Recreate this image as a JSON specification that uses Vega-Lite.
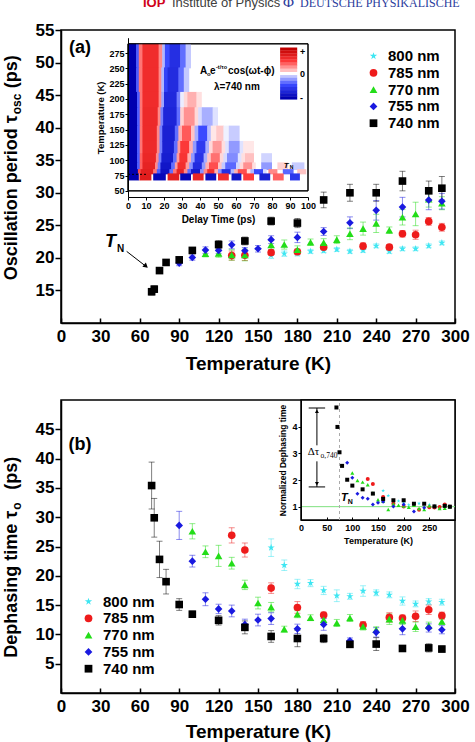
{
  "$schema": "https://vega.github.io/schema/vega-lite/v6.json",
  "background": "white",
  "padding": {"left": 2, "top": -7, "right": 0, "bottom": 0},
  "spacing": 77,
  "bounds": "flush",
  "config": {
    "font": "Liberation Sans",
    "view": {"stroke": "#000000", "strokeWidth": 1.5},
    "axis": {
      "grid": false, "domainColor": "#000000", "domainWidth": 1.5, "tickColor": "#000000", "tickWidth": 1.5,
      "labelColor": "#000000", "titleColor": "#000000", "labelFont": "Liberation Sans", "titleFont": "Liberation Sans",
      "labelFontWeight": "bold", "titleFontWeight": "bold", "labelFlush": false, "labelOverlap": false
    }
  },
  "datasets": {
    "a": [
      {"s": "800 nm", "T": 160, "v": 20.4, "e": 0.5}, {"s": "800 nm", "T": 170, "v": 20.65, "e": 0.4}, {"s": "800 nm", "T": 180, "v": 20.7, "e": 0.4},
      {"s": "800 nm", "T": 190, "v": 21.0, "e": 0.3}, {"s": "800 nm", "T": 200, "v": 21.1, "e": 0.3}, {"s": "800 nm", "T": 210, "v": 21.3, "e": 0.3},
      {"s": "800 nm", "T": 220, "v": 21.0, "e": 0.3}, {"s": "800 nm", "T": 230, "v": 21.15, "e": 0.3}, {"s": "800 nm", "T": 240, "v": 21.85, "e": 0.3},
      {"s": "800 nm", "T": 250, "v": 21.0, "e": 0.3}, {"s": "800 nm", "T": 260, "v": 21.4, "e": 0.3}, {"s": "800 nm", "T": 270, "v": 21.4, "e": 0.3},
      {"s": "800 nm", "T": 280, "v": 21.85, "e": 0.3}, {"s": "800 nm", "T": 290, "v": 22.3, "e": 0.3},
      {"s": "785 nm", "T": 130, "v": 20.35, "e": 0.7}, {"s": "785 nm", "T": 140, "v": 20.4, "e": 0.8}, {"s": "785 nm", "T": 160, "v": 20.8, "e": 0.4},
      {"s": "785 nm", "T": 180, "v": 20.95, "e": 0.4}, {"s": "785 nm", "T": 200, "v": 21.65, "e": 0.4}, {"s": "785 nm", "T": 230, "v": 21.8, "e": 0.5},
      {"s": "785 nm", "T": 250, "v": 21.65, "e": 0.4}, {"s": "785 nm", "T": 260, "v": 23.7, "e": 0.5}, {"s": "785 nm", "T": 270, "v": 23.55, "e": 0.7},
      {"s": "785 nm", "T": 280, "v": 25.6, "e": 0.6}, {"s": "785 nm", "T": 290, "v": 24.7, "e": 0.6},
      {"s": "770 nm", "T": 110, "v": 20.65, "e": 0.5}, {"s": "770 nm", "T": 120, "v": 20.7, "e": 0.6}, {"s": "770 nm", "T": 130, "v": 20.45, "e": 0.8},
      {"s": "770 nm", "T": 140, "v": 20.45, "e": 0.9}, {"s": "770 nm", "T": 160, "v": 22.0, "e": 0.7}, {"s": "770 nm", "T": 170, "v": 22.05, "e": 0.7},
      {"s": "770 nm", "T": 180, "v": 21.25, "e": 0.6}, {"s": "770 nm", "T": 190, "v": 22.4, "e": 0.5}, {"s": "770 nm", "T": 200, "v": 22.35, "e": 0.6},
      {"s": "770 nm", "T": 210, "v": 22.8, "e": 0.6}, {"s": "770 nm", "T": 220, "v": 23.7, "e": 0.9}, {"s": "770 nm", "T": 230, "v": 24.5, "e": 1.0},
      {"s": "770 nm", "T": 240, "v": 25.3, "e": 1.4}, {"s": "770 nm", "T": 250, "v": 24.25, "e": 0.5}, {"s": "770 nm", "T": 260, "v": 26.25, "e": 1.2},
      {"s": "770 nm", "T": 270, "v": 26.75, "e": 1.8}, {"s": "770 nm", "T": 280, "v": 29.0, "e": 1.2}, {"s": "770 nm", "T": 290, "v": 28.4, "e": 1.0},
      {"s": "755 nm", "T": 90, "v": 19.2, "e": 0.4}, {"s": "755 nm", "T": 100, "v": 20.05, "e": 0.4}, {"s": "755 nm", "T": 110, "v": 21.2, "e": 0.5},
      {"s": "755 nm", "T": 120, "v": 21.15, "e": 0.5}, {"s": "755 nm", "T": 130, "v": 22.0, "e": 0.6}, {"s": "755 nm", "T": 140, "v": 21.1, "e": 0.5},
      {"s": "755 nm", "T": 150, "v": 21.4, "e": 0.5}, {"s": "755 nm", "T": 160, "v": 22.8, "e": 0.6}, {"s": "755 nm", "T": 180, "v": 23.15, "e": 0.8},
      {"s": "755 nm", "T": 200, "v": 24.05, "e": 0.6}, {"s": "755 nm", "T": 220, "v": 25.4, "e": 0.9}, {"s": "755 nm", "T": 240, "v": 27.3, "e": 1.5},
      {"s": "755 nm", "T": 260, "v": 27.8, "e": 1.5}, {"s": "755 nm", "T": 280, "v": 28.9, "e": 1.5}, {"s": "755 nm", "T": 290, "v": 28.7, "e": 1.2},
      {"s": "740 nm", "T": 69, "v": 14.8, "e": 0.5}, {"s": "740 nm", "T": 71, "v": 15.2, "e": 0.5}, {"s": "740 nm", "T": 75, "v": 18.05, "e": 0.4},
      {"s": "740 nm", "T": 80, "v": 19.3, "e": 0.3}, {"s": "740 nm", "T": 90, "v": 19.7, "e": 0.4}, {"s": "740 nm", "T": 100, "v": 21.15, "e": 0.4},
      {"s": "740 nm", "T": 120, "v": 22.05, "e": 0.6}, {"s": "740 nm", "T": 140, "v": 22.6, "e": 0.6}, {"s": "740 nm", "T": 160, "v": 25.65, "e": 0.6},
      {"s": "740 nm", "T": 180, "v": 25.35, "e": 0.7}, {"s": "740 nm", "T": 200, "v": 28.9, "e": 1.2}, {"s": "740 nm", "T": 220, "v": 30.0, "e": 1.3},
      {"s": "740 nm", "T": 240, "v": 30.0, "e": 1.3}, {"s": "740 nm", "T": 260, "v": 31.8, "e": 1.5}, {"s": "740 nm", "T": 280, "v": 30.3, "e": 1.5},
      {"s": "740 nm", "T": 290, "v": 30.7, "e": 1.8}
    ],
    "b": [
      {"s": "800 nm", "T": 160, "v": 24.8, "e": 1.5}, {"s": "800 nm", "T": 170, "v": 21.8, "e": 0.9}, {"s": "800 nm", "T": 180, "v": 18.6, "e": 0.8},
      {"s": "800 nm", "T": 190, "v": 18.75, "e": 0.6}, {"s": "800 nm", "T": 200, "v": 17.5, "e": 0.7}, {"s": "800 nm", "T": 210, "v": 16.6, "e": 1.0},
      {"s": "800 nm", "T": 220, "v": 16.5, "e": 0.5}, {"s": "800 nm", "T": 230, "v": 17.4, "e": 0.9}, {"s": "800 nm", "T": 240, "v": 17.1, "e": 0.5},
      {"s": "800 nm", "T": 250, "v": 16.75, "e": 0.5}, {"s": "800 nm", "T": 260, "v": 15.7, "e": 0.7}, {"s": "800 nm", "T": 270, "v": 15.2, "e": 0.5},
      {"s": "800 nm", "T": 280, "v": 15.6, "e": 0.5}, {"s": "800 nm", "T": 290, "v": 15.5, "e": 0.5},
      {"s": "785 nm", "T": 130, "v": 26.9, "e": 1.3}, {"s": "785 nm", "T": 140, "v": 24.4, "e": 1.2}, {"s": "785 nm", "T": 160, "v": 17.9, "e": 0.9},
      {"s": "785 nm", "T": 180, "v": 14.6, "e": 1.0}, {"s": "785 nm", "T": 200, "v": 13.3, "e": 0.5}, {"s": "785 nm", "T": 230, "v": 11.6, "e": 0.6},
      {"s": "785 nm", "T": 250, "v": 12.9, "e": 0.8}, {"s": "785 nm", "T": 260, "v": 12.8, "e": 0.5}, {"s": "785 nm", "T": 270, "v": 13.1, "e": 0.9},
      {"s": "785 nm", "T": 280, "v": 14.2, "e": 0.8}, {"s": "785 nm", "T": 290, "v": 13.2, "e": 0.6},
      {"s": "770 nm", "T": 100, "v": 27.6, "e": 1.3}, {"s": "770 nm", "T": 110, "v": 24.1, "e": 1.0}, {"s": "770 nm", "T": 120, "v": 23.4, "e": 1.8},
      {"s": "770 nm", "T": 130, "v": 22.15, "e": 1.0}, {"s": "770 nm", "T": 140, "v": 18.45, "e": 0.8}, {"s": "770 nm", "T": 150, "v": 15.35, "e": 1.0},
      {"s": "770 nm", "T": 160, "v": 14.65, "e": 0.8}, {"s": "770 nm", "T": 170, "v": 10.9, "e": 0.5}, {"s": "770 nm", "T": 180, "v": 13.45, "e": 0.6},
      {"s": "770 nm", "T": 190, "v": 12.85, "e": 0.5}, {"s": "770 nm", "T": 200, "v": 12.5, "e": 0.6}, {"s": "770 nm", "T": 210, "v": 11.95, "e": 0.6},
      {"s": "770 nm", "T": 220, "v": 12.8, "e": 0.6}, {"s": "770 nm", "T": 230, "v": 11.35, "e": 0.6}, {"s": "770 nm", "T": 240, "v": 10.8, "e": 0.5},
      {"s": "770 nm", "T": 250, "v": 12.6, "e": 0.9}, {"s": "770 nm", "T": 260, "v": 12.4, "e": 0.7}, {"s": "770 nm", "T": 270, "v": 11.3, "e": 0.8},
      {"s": "770 nm", "T": 280, "v": 11.5, "e": 0.6}, {"s": "770 nm", "T": 290, "v": 12.2, "e": 0.5},
      {"s": "755 nm", "T": 90, "v": 28.6, "e": 2.4}, {"s": "755 nm", "T": 100, "v": 22.5, "e": 1.0}, {"s": "755 nm", "T": 110, "v": 16.0, "e": 1.1},
      {"s": "755 nm", "T": 120, "v": 14.35, "e": 0.8}, {"s": "755 nm", "T": 130, "v": 14.0, "e": 1.0}, {"s": "755 nm", "T": 140, "v": 11.7, "e": 0.9},
      {"s": "755 nm", "T": 150, "v": 12.45, "e": 1.0}, {"s": "755 nm", "T": 160, "v": 12.7, "e": 1.0}, {"s": "755 nm", "T": 180, "v": 10.95, "e": 0.8},
      {"s": "755 nm", "T": 200, "v": 11.7, "e": 1.0}, {"s": "755 nm", "T": 220, "v": 8.9, "e": 0.5}, {"s": "755 nm", "T": 240, "v": 10.35, "e": 0.8},
      {"s": "755 nm", "T": 260, "v": 10.95, "e": 1.0}, {"s": "755 nm", "T": 280, "v": 11.1, "e": 0.7}, {"s": "755 nm", "T": 290, "v": 10.8, "e": 0.7},
      {"s": "740 nm", "T": 69, "v": 35.4, "e": 4.0}, {"s": "740 nm", "T": 71, "v": 29.9, "e": 3.3}, {"s": "740 nm", "T": 75, "v": 22.8, "e": 3.1},
      {"s": "740 nm", "T": 80, "v": 19.0, "e": 2.1}, {"s": "740 nm", "T": 90, "v": 15.1, "e": 1.0}, {"s": "740 nm", "T": 100, "v": 13.45, "e": 0.5},
      {"s": "740 nm", "T": 120, "v": 12.4, "e": 0.8}, {"s": "740 nm", "T": 140, "v": 11.2, "e": 1.1}, {"s": "740 nm", "T": 160, "v": 9.65, "e": 1.0},
      {"s": "740 nm", "T": 180, "v": 9.3, "e": 1.4}, {"s": "740 nm", "T": 200, "v": 9.3, "e": 0.7}, {"s": "740 nm", "T": 220, "v": 8.3, "e": 0.5},
      {"s": "740 nm", "T": 240, "v": 8.35, "e": 1.1}, {"s": "740 nm", "T": 260, "v": 7.6, "e": 0.3}, {"s": "740 nm", "T": 280, "v": 7.7, "e": 0.7},
      {"s": "740 nm", "T": 290, "v": 7.5, "e": 0.5}
    ],
    "n": [
      {"s": "800 nm", "T": 160, "v": 1.6}, {"s": "800 nm", "T": 170, "v": 1.41}, {"s": "800 nm", "T": 180, "v": 1.2}, {"s": "800 nm", "T": 190, "v": 1.21},
      {"s": "800 nm", "T": 200, "v": 1.13}, {"s": "800 nm", "T": 210, "v": 1.07}, {"s": "800 nm", "T": 220, "v": 1.06}, {"s": "800 nm", "T": 230, "v": 1.12},
      {"s": "800 nm", "T": 240, "v": 1.1}, {"s": "800 nm", "T": 250, "v": 1.08}, {"s": "800 nm", "T": 260, "v": 1.01}, {"s": "800 nm", "T": 270, "v": 0.98},
      {"s": "800 nm", "T": 280, "v": 1.01}, {"s": "800 nm", "T": 290, "v": 1.0},
      {"s": "785 nm", "T": 130, "v": 2.04}, {"s": "785 nm", "T": 140, "v": 1.85}, {"s": "785 nm", "T": 160, "v": 1.36}, {"s": "785 nm", "T": 180, "v": 1.11},
      {"s": "785 nm", "T": 200, "v": 1.01}, {"s": "785 nm", "T": 230, "v": 0.88}, {"s": "785 nm", "T": 250, "v": 0.98}, {"s": "785 nm", "T": 260, "v": 0.97},
      {"s": "785 nm", "T": 270, "v": 0.99}, {"s": "785 nm", "T": 280, "v": 1.08}, {"s": "785 nm", "T": 290, "v": 1.0},
      {"s": "770 nm", "T": 100, "v": 2.26}, {"s": "770 nm", "T": 110, "v": 1.98}, {"s": "770 nm", "T": 120, "v": 1.92}, {"s": "770 nm", "T": 130, "v": 1.82},
      {"s": "770 nm", "T": 140, "v": 1.51}, {"s": "770 nm", "T": 150, "v": 1.26}, {"s": "770 nm", "T": 160, "v": 1.2}, {"s": "770 nm", "T": 170, "v": 0.89},
      {"s": "770 nm", "T": 180, "v": 1.1}, {"s": "770 nm", "T": 190, "v": 1.05}, {"s": "770 nm", "T": 200, "v": 1.02}, {"s": "770 nm", "T": 210, "v": 0.98},
      {"s": "770 nm", "T": 220, "v": 1.05}, {"s": "770 nm", "T": 230, "v": 0.93}, {"s": "770 nm", "T": 240, "v": 0.89}, {"s": "770 nm", "T": 250, "v": 1.03},
      {"s": "770 nm", "T": 260, "v": 1.02}, {"s": "770 nm", "T": 270, "v": 0.93}, {"s": "770 nm", "T": 280, "v": 0.94}, {"s": "770 nm", "T": 290, "v": 1.0},
      {"s": "755 nm", "T": 90, "v": 2.65}, {"s": "755 nm", "T": 100, "v": 2.08}, {"s": "755 nm", "T": 110, "v": 1.48}, {"s": "755 nm", "T": 120, "v": 1.33},
      {"s": "755 nm", "T": 130, "v": 1.3}, {"s": "755 nm", "T": 140, "v": 1.08}, {"s": "755 nm", "T": 150, "v": 1.15}, {"s": "755 nm", "T": 160, "v": 1.18},
      {"s": "755 nm", "T": 180, "v": 1.01}, {"s": "755 nm", "T": 200, "v": 1.08}, {"s": "755 nm", "T": 220, "v": 0.82}, {"s": "755 nm", "T": 240, "v": 0.96},
      {"s": "755 nm", "T": 260, "v": 1.01}, {"s": "755 nm", "T": 280, "v": 1.03}, {"s": "755 nm", "T": 290, "v": 1.0},
      {"s": "740 nm", "T": 69, "v": 4.72}, {"s": "740 nm", "T": 71, "v": 3.99}, {"s": "740 nm", "T": 75, "v": 3.04}, {"s": "740 nm", "T": 80, "v": 2.53},
      {"s": "740 nm", "T": 90, "v": 2.01}, {"s": "740 nm", "T": 100, "v": 1.79}, {"s": "740 nm", "T": 120, "v": 1.65}, {"s": "740 nm", "T": 140, "v": 1.49},
      {"s": "740 nm", "T": 160, "v": 1.29}, {"s": "740 nm", "T": 180, "v": 1.24}, {"s": "740 nm", "T": 200, "v": 1.24}, {"s": "740 nm", "T": 220, "v": 1.11},
      {"s": "740 nm", "T": 240, "v": 1.11}, {"s": "740 nm", "T": 260, "v": 1.01}, {"s": "740 nm", "T": 280, "v": 1.03}, {"s": "740 nm", "T": 290, "v": 1.0}
    ],
    "heat": [
      {"T0": 250, "T1": 290, "t0": [0, 4.5, 6, 8, 17, 19, 20.5, 23, 29, 32], "t1": [4.8, 6.3, 8.3, 17.3, 19.3, 20.8, 23.3, 29.3, 32.3, 35], "v": [-1, -0.45, 0.35, 0.62, 0.3, -0.2, -0.5, -0.68, -0.4, -0.15]},
      {"T0": 210, "T1": 251.5, "t0": [0, 4.5, 6, 8, 17, 18.5, 20, 22, 28, 31], "t1": [4.8, 6.3, 8.3, 17.3, 18.8, 20.3, 22.3, 28.3, 31.3, 34], "v": [-1, -0.45, 0.35, 0.62, 0.3, -0.2, -0.55, -0.7, -0.4, -0.15]},
      {"T0": 185, "T1": 211.5, "t0": [0, 5, 6.5, 8, 17, 18.5, 20, 27, 29, 31, 33, 38], "t1": [5.3, 6.8, 8.3, 17.3, 18.8, 20.3, 27.3, 29.3, 31.3, 33.3, 38.3, 41], "v": [-1, -0.45, 0.35, 0.62, 0.3, -0.25, -0.72, -0.35, -0.05, 0.1, 0.2, 0.08]},
      {"T0": 155, "T1": 186.5, "t0": [0, 5, 6.5, 8, 16.5, 18, 19.5, 27, 29, 31, 37, 39, 41, 47], "t1": [5.3, 6.8, 8.3, 16.8, 18.3, 19.8, 27.3, 29.3, 31.3, 37.3, 39.3, 41.3, 47.3, 50], "v": [-1, -0.45, 0.35, 0.64, 0.3, -0.35, -0.75, -0.4, 0.12, 0.28, 0.1, -0.1, -0.22, -0.08]},
      {"T0": 130, "T1": 156.5, "t0": [0, 5, 6.5, 8, 16, 17.5, 19, 26, 28, 30, 35, 37, 39, 44, 46, 49, 53, 56], "t1": [5.3, 6.8, 8.3, 16.3, 17.8, 19.3, 26.3, 28.3, 30.3, 35.3, 37.3, 39.3, 44.3, 46.3, 49.3, 53.3, 56.3, 62], "v": [-1, -0.45, 0.35, 0.64, 0.3, -0.35, -0.78, -0.4, 0.2, 0.42, 0.15, -0.22, -0.5, -0.18, 0.06, 0.14, -0.04, -0.14]},
      {"T0": 110, "T1": 131.5, "t0": [0, 5, 6.5, 8, 16, 17.5, 19, 25.5, 27.5, 29, 34, 36, 38, 43, 45, 47, 52, 54, 56, 62, 64], "t1": [5.3, 6.8, 8.3, 16.3, 17.8, 19.3, 25.8, 27.8, 29.3, 34.3, 36.3, 38.3, 43.3, 45.3, 47.3, 52.3, 54.3, 56.3, 62.3, 64.3, 70], "v": [-1, -0.45, 0.35, 0.64, 0.3, -0.35, -0.78, -0.4, 0.25, 0.52, 0.2, -0.28, -0.6, -0.22, 0.1, 0.26, 0.08, -0.08, -0.28, -0.08, 0.06]},
      {"T0": 95, "T1": 111.5, "t0": [0, 5, 6.5, 8, 15.5, 17, 18.5, 25, 27, 28.5, 33, 35, 37, 42, 44, 46, 51, 53, 55, 61, 63, 65, 74], "t1": [5.3, 6.8, 8.3, 15.8, 17.3, 18.8, 25.3, 27.3, 28.8, 33.3, 35.3, 37.3, 42.3, 44.3, 46.3, 51.3, 53.3, 55.3, 61.3, 63.3, 65.3, 70, 80], "v": [-1, -0.45, 0.4, 0.66, 0.3, -0.35, -0.8, -0.4, 0.25, 0.56, 0.2, -0.28, -0.65, -0.22, 0.15, 0.36, 0.1, -0.1, -0.32, -0.08, 0.08, 0.16, -0.12]},
      {"T0": 84, "T1": 96.5, "t0": [0, 5, 6.5, 8, 15, 16.5, 18, 24, 26, 27.5, 32, 34, 36, 41, 43, 45, 50, 52, 54, 60, 62, 64, 69, 74, 83, 91], "t1": [5.3, 6.8, 8.3, 15.3, 16.8, 18.3, 24.3, 26.3, 27.8, 32.3, 34.3, 36.3, 41.3, 43.3, 45.3, 50.3, 52.3, 54.3, 60.3, 62.3, 64.3, 69.3, 71, 80, 89, 98], "v": [-1, -0.45, 0.4, 0.7, 0.3, -0.35, -0.85, -0.4, 0.25, 0.6, 0.25, -0.3, -0.7, -0.28, 0.2, 0.45, 0.15, -0.15, -0.42, -0.12, 0.1, 0.28, 0.08, -0.28, 0.12, -0.14]},
      {"T0": 77, "T1": 85.5, "t0": [0, 5.5, 7, 14, 16, 18, 23, 25, 27, 31, 33, 35, 40, 42, 44, 48, 50, 52, 57, 59, 61, 66, 68, 70, 75, 78, 86, 94], "t1": [5.8, 7.3, 14.3, 16.3, 18.3, 23.3, 25.3, 27.3, 31.3, 33.3, 35.3, 40.3, 42.3, 44.3, 48.3, 50.3, 52.3, 57.3, 59.3, 61.3, 66.3, 68.3, 70.3, 75.3, 77, 83, 92, 99], "v": [-1, 0.45, 0.72, 0.35, -0.45, -0.88, -0.4, 0.35, 0.68, 0.3, -0.4, -0.82, -0.3, 0.3, 0.6, 0.2, -0.3, -0.68, -0.2, 0.2, 0.45, 0.1, -0.2, -0.52, -0.1, 0.3, -0.42, 0.15]},
      {"T0": 67, "T1": 78.5, "t0": [0, 6, 6.5, 14, 22, 29, 36, 43, 50, 57.5, 64, 73, 80.5, 90], "t1": [6.3, 6.8, 13, 21, 28.5, 35, 42, 49, 56, 63, 70, 79, 86.5, 95.5], "v": [-1, 0.2, 0.75, -0.95, 0.72, -0.95, 0.68, -0.9, 0.6, -0.85, 0.5, -0.78, 0.4, -0.62]}
    ],
    "cbar": [
      {"t0": 84.5, "t1": 94,
       "T0": [279, 274, 269, 264, 259, 254, 249, 244, 234, 229, 224, 219, 214, 209, 204, 199],
       "T1": [284, 279.5, 274.5, 269.5, 264.5, 259.5, 254.5, 249.5, 239, 234.5, 229.5, 224.5, 219.5, 214.5, 209.5, 204.5],
       "v": [1, 0.88, 0.76, 0.64, 0.52, 0.4, 0.28, 0.16, -0.16, -0.28, -0.4, -0.52, -0.64, -0.76, -0.88, -1]}
    ]
  },
  "vconcat": [
    {
      "width": 394,
      "height": 293,
      "resolve": {
        "scale": {"x": "independent", "y": "independent", "color": "independent"},
        "axis": {"x": "independent", "y": "independent"}
      },
      "layer": [
        {
          "resolve": {"scale": {"color": "independent", "shape": "independent"}},
          "layer": [
            {
              "data": {"name": "a"},
              "mark": {"type": "errorbar", "ticks": {"size": 6, "opacity": 0.5}, "rule": {"opacity": 0.5}},
              "encoding": {
                "x": {"field": "T", "type": "quantitative", "title": "Temperature (K)", "scale": {"domain": [0, 300]}},
                "y": {"field": "v", "type": "quantitative", "title": null, "scale": {"domain": [11, 55]}},
                "yError": {"field": "e"},
                "color": {"field": "s", "type": "nominal", "legend": null, "scale": {"domain": ["800 nm", "785 nm", "770 nm", "755 nm", "740 nm"], "range": ["#3ee6f2", "#ee1b1b", "#23dd18", "#1a1ae0", "#000000"]}}
              }
            },
            {
              "data": {"name": "a"},
              "mark": {"type": "point", "filled": true, "opacity": 1, "size": 58},
              "encoding": {
                "x": {"field": "T", "type": "quantitative", "title": "Temperature (K)", "scale": {"domain": [0, 300]},
                      "axis": {"values": [0, 30, 60, 90, 120, 150, 180, 210, 240, 270, 300], "tickCount": 40, "labelOverlap": false, "tickSize": -5, "labelPadding": 10, "labelFontSize": 17, "titleFontSize": 19, "titlePadding": 10}},
                "y": {"field": "v", "type": "quantitative", "title": null, "scale": {"domain": [11, 55]},
                      "axis": {"values": [15, 20, 25, 30, 35, 40, 45, 50, 55], "tickCount": 40, "labelOverlap": false, "tickSize": 6, "labelPadding": 1, "labelFontSize": 17}},
                "color": {"field": "s", "type": "nominal", "scale": {"domain": ["800 nm", "785 nm", "770 nm", "755 nm", "740 nm"], "range": ["#3ee6f2", "#ee1b1b", "#23dd18", "#1a1ae0", "#000000"]},
                          "legend": {"title": null, "orient": "none", "legendX": 305, "legendY": 18.5, "labelFontSize": 15, "labelFontWeight": "bold", "labelColor": "#000000", "symbolSize": 60, "rowPadding": 0.8, "labelOffset": 7, "padding": 0}},
                "shape": {"field": "s", "type": "nominal", "scale": {"domain": ["800 nm", "785 nm", "770 nm", "755 nm", "740 nm"], "range": ["M0,-1L0.224,-0.309L0.951,-0.309L0.363,0.118L0.588,0.809L0,0.382L-0.588,0.809L-0.363,0.118L-0.951,-0.309L-0.224,-0.309Z", "circle", "triangle-up", "diamond", "square"]},
                          "legend": {"title": null, "orient": "none", "legendX": 305, "legendY": 18.5, "labelFontSize": 15, "labelFontWeight": "bold", "labelColor": "#000000", "symbolSize": 60, "rowPadding": 0.8, "labelOffset": 7, "padding": 0}}
              }
            },
            {
              "data": {"values": [{}]},
              "mark": {"type": "text", "text": "IOP", "fontSize": 13, "fontWeight": "bold", "color": "#d0021b", "align": "left", "baseline": "alphabetic"},
              "encoding": {"x": {"datum": 62.4, "type": "quantitative"}, "y": {"datum": 58.6, "type": "quantitative"}}
            },
            {
              "data": {"values": [{}]},
              "mark": {"type": "text", "text": "Institute of Physics", "fontSize": 13, "color": "#404040", "align": "left", "baseline": "alphabetic"},
              "encoding": {"x": {"datum": 84.5, "type": "quantitative"}, "y": {"datum": 58.6, "type": "quantitative"}}
            },
            {
              "data": {"values": [{}]},
              "mark": {"type": "text", "text": "Φ", "fontSize": 15, "font": "Liberation Serif", "color": "#2a3b9c", "align": "left", "baseline": "alphabetic"},
              "encoding": {"x": {"datum": 169, "type": "quantitative"}, "y": {"datum": 58.6, "type": "quantitative"}}
            },
            {
              "data": {"values": [{}]},
              "mark": {"type": "text", "text": "DEUTSCHE PHYSIKALISCHE", "fontSize": 12, "font": "Liberation Serif", "color": "#2a3b9c", "align": "left", "baseline": "alphabetic"},
              "encoding": {"x": {"datum": 182, "type": "quantitative"}, "y": {"datum": 58.6, "type": "quantitative"}}
            },
            {
              "data": {"values": [{}]},
              "mark": {"type": "text", "text": "(a)", "fontSize": 18, "fontWeight": "bold", "align": "center", "baseline": "middle"},
              "encoding": {"x": {"datum": 14.5, "type": "quantitative"}, "y": {"datum": 52.3, "type": "quantitative"}}
            },
            {
              "data": {"values": [{}]},
              "mark": {"type": "text", "text": "Oscillation period τ", "fontSize": 18, "fontWeight": "bold", "angle": 270, "align": "right", "baseline": "alphabetic"},
              "encoding": {"x": {"datum": -33.5, "type": "quantitative"}, "y": {"datum": 41.9, "type": "quantitative"}}
            },
            {
              "data": {"values": [{}]},
              "mark": {"type": "text", "text": "osc", "fontSize": 12, "fontWeight": "bold", "angle": 270, "align": "left", "baseline": "alphabetic", "dx": 1, "dy": 4},
              "encoding": {"x": {"datum": -33.5, "type": "quantitative"}, "y": {"datum": 41.9, "type": "quantitative"}}
            },
            {
              "data": {"values": [{}]},
              "mark": {"type": "text", "text": "(ps)", "fontSize": 18, "fontWeight": "bold", "angle": 270, "align": "left", "baseline": "alphabetic", "dx": 27},
              "encoding": {"x": {"datum": -33.5, "type": "quantitative"}, "y": {"datum": 41.9, "type": "quantitative"}}
            },
            {
              "data": {"values": [{}]},
              "mark": {"type": "text", "text": "T", "fontSize": 18, "fontWeight": "bold", "fontStyle": "italic", "align": "left", "baseline": "alphabetic"},
              "encoding": {"x": {"datum": 33.5, "type": "quantitative"}, "y": {"datum": 21.65, "type": "quantitative"}}
            },
            {
              "data": {"values": [{}]},
              "mark": {"type": "text", "text": "N", "fontSize": 10, "fontWeight": "bold", "align": "left", "baseline": "alphabetic"},
              "encoding": {"x": {"datum": 42.6, "type": "quantitative"}, "y": {"datum": 20.9, "type": "quantitative"}}
            },
            {
              "data": {"values": [{}]},
              "mark": {"type": "rule", "color": "#000000", "strokeWidth": 1},
              "encoding": {"x": {"datum": 50, "type": "quantitative"}, "y": {"datum": 21.0, "type": "quantitative"}, "x2": {"datum": 65}, "y2": {"datum": 18.65}}
            },
            {
              "data": {"values": [{}]},
              "mark": {"type": "point", "shape": "triangle-up", "angle": 129, "size": 30, "filled": true, "color": "#000000", "opacity": 1},
              "encoding": {"x": {"datum": 64.7, "type": "quantitative"}, "y": {"datum": 18.73, "type": "quantitative"}}
            }
          ]
        },
        {
          "layer": [
            {
              "data": {"values": [{}]},
              "mark": {"type": "rect", "fill": "#ffffff", "stroke": "#000000", "strokeWidth": 1},
              "encoding": {
                "x": {"datum": 0, "type": "quantitative", "scale": {"domain": [0, 100], "range": [67, 247]},
                      "axis": {"orient": "bottom", "offset": -126, "values": [0, 10, 20, 30, 40, 50, 60, 70, 80, 90, 100], "tickCount": 40, "labelOverlap": false, "tickSize": 3, "tickWidth": 1, "domainWidth": 1, "labelFontSize": 9, "labelPadding": 1, "title": "Delay Time (ps)", "titleFontSize": 10, "titlePadding": 4, "zindex": 1}},
                "x2": {"datum": 100},
                "y": {"datum": 50, "type": "quantitative", "scale": {"domain": [50, 290], "range": [167, 7.7]},
                      "axis": {"orient": "left", "offset": -67, "values": [50, 75, 100, 125, 150, 175, 200, 225, 250, 275], "tickCount": 40, "labelOverlap": false, "tickSize": 3, "tickWidth": 1, "domainWidth": 1, "labelFontSize": 9, "labelPadding": 1, "title": "Temperature (K)", "titleFontSize": 9.5, "titlePadding": 3, "zindex": 1}},
                "y2": {"datum": 290}
              }
            },
            {
              "data": {"name": "heat"},
              "transform": [{"flatten": ["t0", "t1", "v"]}],
              "mark": {"type": "rect"},
              "encoding": {
                "x": {"field": "t0", "type": "quantitative", "scale": {"domain": [0, 100], "range": [67, 247]}},
                "x2": {"field": "t1"},
                "y": {"field": "T0", "type": "quantitative", "scale": {"domain": [50, 290], "range": [167, 7.7]}},
                "y2": {"field": "T1"},
                "color": {"field": "v", "type": "quantitative", "scale": {"domain": [-1, -0.5, 0, 0.5, 1], "range": ["#0000b0", "#3a4aff", "#ffffff", "#ff3a3a", "#c00000"], "interpolate": "rgb"}, "legend": null}
              }
            },
            {
              "data": {"name": "cbar"},
              "transform": [{"flatten": ["T0", "T1", "v"]}],
              "mark": {"type": "rect"},
              "encoding": {
                "x": {"field": "t0", "type": "quantitative"},
                "x2": {"field": "t1"},
                "y": {"field": "T0", "type": "quantitative"},
                "y2": {"field": "T1"},
                "color": {"field": "v", "type": "quantitative", "legend": null}
              }
            },
            {
              "data": {"values": [{}]},
              "mark": {"type": "rule", "color": "#000000", "strokeWidth": 1, "strokeDash": [2, 2]},
              "encoding": {"x": {"datum": 0, "type": "quantitative"}, "x2": {"datum": 10}, "y": {"datum": 77, "type": "quantitative"}}
            },
            {
              "data": {"values": [{}]},
              "mark": {"type": "rect", "fill": null, "fillOpacity": 0, "stroke": "#000000", "strokeWidth": 1},
              "encoding": {"x": {"datum": 0, "type": "quantitative"}, "x2": {"datum": 100}, "y": {"datum": 50, "type": "quantitative"}, "y2": {"datum": 290}}
            },
            {
              "data": {"values": [{}]},
              "mark": {"type": "text", "text": "A", "fontSize": 10, "fontWeight": "bold", "align": "left", "baseline": "middle"},
              "encoding": {"x": {"datum": 40, "type": "quantitative"}, "y": {"datum": 246, "type": "quantitative"}}
            },
            {
              "data": {"values": [{}]},
              "mark": {"type": "text", "text": "o", "fontSize": 6, "fontWeight": "bold", "align": "left", "baseline": "middle", "dx": 7, "dy": 3},
              "encoding": {"x": {"datum": 40, "type": "quantitative"}, "y": {"datum": 246, "type": "quantitative"}}
            },
            {
              "data": {"values": [{}]},
              "mark": {"type": "text", "text": "e", "fontSize": 10, "fontWeight": "bold", "align": "left", "baseline": "middle", "dx": 10},
              "encoding": {"x": {"datum": 40, "type": "quantitative"}, "y": {"datum": 246, "type": "quantitative"}}
            },
            {
              "data": {"values": [{}]},
              "mark": {"type": "text", "text": "-t/τo", "fontSize": 5.5, "fontWeight": "bold", "align": "left", "baseline": "middle", "dx": 16, "dy": -4},
              "encoding": {"x": {"datum": 40, "type": "quantitative"}, "y": {"datum": 246, "type": "quantitative"}}
            },
            {
              "data": {"values": [{}]},
              "mark": {"type": "text", "text": "cos(ωt-ϕ)", "fontSize": 10, "fontWeight": "bold", "align": "left", "baseline": "middle", "dx": 28},
              "encoding": {"x": {"datum": 40, "type": "quantitative"}, "y": {"datum": 246, "type": "quantitative"}}
            },
            {
              "data": {"values": [{}]},
              "mark": {"type": "text", "text": "λ=740 nm", "fontSize": 10, "fontWeight": "bold", "align": "center", "baseline": "middle"},
              "encoding": {"x": {"datum": 60.5, "type": "quantitative"}, "y": {"datum": 220, "type": "quantitative"}}
            },
            {
              "data": {"values": [{"lab": "+", "T": 277}, {"lab": "0", "T": 241}, {"lab": "-", "T": 201}]},
              "mark": {"type": "text", "fontSize": 9, "fontWeight": "bold", "align": "left", "baseline": "middle"},
              "encoding": {"x": {"datum": 95.5, "type": "quantitative"}, "y": {"field": "T", "type": "quantitative"}, "text": {"field": "lab"}}
            },
            {
              "data": {"values": [{}]},
              "mark": {"type": "text", "text": "T", "fontSize": 8, "fontWeight": "bold", "fontStyle": "italic", "align": "left", "baseline": "alphabetic"},
              "encoding": {"x": {"datum": 86.5, "type": "quantitative"}, "y": {"datum": 88, "type": "quantitative"}}
            },
            {
              "data": {"values": [{}]},
              "mark": {"type": "text", "text": "N", "fontSize": 5, "fontWeight": "bold", "align": "left", "baseline": "alphabetic"},
              "encoding": {"x": {"datum": 89.8, "type": "quantitative"}, "y": {"datum": 85, "type": "quantitative"}}
            }
          ]
        }
      ]
    },
    {
      "width": 394,
      "height": 293,
      "resolve": {
        "scale": {"x": "independent", "y": "independent", "color": "independent", "shape": "independent"},
        "axis": {"x": "independent", "y": "independent"}
      },
      "layer": [
        {
          "resolve": {"scale": {"color": "independent", "shape": "independent"}},
          "layer": [
            {
              "data": {"name": "b"},
              "mark": {"type": "errorbar", "ticks": {"size": 6, "opacity": 0.5}, "rule": {"opacity": 0.5}},
              "encoding": {
                "x": {"field": "T", "type": "quantitative", "title": "Temperature (K)", "scale": {"domain": [0, 300]}},
                "y": {"field": "v", "type": "quantitative", "title": null, "scale": {"domain": [2.5, 45.2]}},
                "yError": {"field": "e"},
                "color": {"field": "s", "type": "nominal", "legend": null, "scale": {"domain": ["800 nm", "785 nm", "770 nm", "755 nm", "740 nm"], "range": ["#3ee6f2", "#ee1b1b", "#23dd18", "#1a1ae0", "#000000"]}}
              }
            },
            {
              "data": {"name": "b"},
              "mark": {"type": "point", "filled": true, "opacity": 1, "size": 58},
              "encoding": {
                "x": {"field": "T", "type": "quantitative", "title": "Temperature (K)", "scale": {"domain": [0, 300]},
                      "axis": {"values": [0, 30, 60, 90, 120, 150, 180, 210, 240, 270, 300], "tickCount": 40, "labelOverlap": false, "tickSize": -5, "labelPadding": 10, "labelFontSize": 17, "titleFontSize": 19, "titlePadding": 8}},
                "y": {"field": "v", "type": "quantitative", "title": null, "scale": {"domain": [2.5, 45.2]},
                      "axis": {"values": [5, 10, 15, 20, 25, 30, 35, 40, 45], "tickCount": 40, "labelOverlap": false, "tickSize": 6, "labelPadding": 1, "labelFontSize": 17}},
                "color": {"field": "s", "type": "nominal", "scale": {"domain": ["800 nm", "785 nm", "770 nm", "755 nm", "740 nm"], "range": ["#3ee6f2", "#ee1b1b", "#23dd18", "#1a1ae0", "#000000"]},
                          "legend": {"title": null, "orient": "none", "legendX": 20, "legendY": 194, "labelFontSize": 15, "labelFontWeight": "bold", "labelColor": "#000000", "symbolSize": 60, "rowPadding": 0.8, "labelOffset": 7, "padding": 0}},
                "shape": {"field": "s", "type": "nominal", "scale": {"domain": ["800 nm", "785 nm", "770 nm", "755 nm", "740 nm"], "range": ["M0,-1L0.224,-0.309L0.951,-0.309L0.363,0.118L0.588,0.809L0,0.382L-0.588,0.809L-0.363,0.118L-0.951,-0.309L-0.224,-0.309Z", "circle", "triangle-up", "diamond", "square"]},
                          "legend": {"title": null, "orient": "none", "legendX": 20, "legendY": 194, "labelFontSize": 15, "labelFontWeight": "bold", "labelColor": "#000000", "symbolSize": 60, "rowPadding": 0.8, "labelOffset": 7, "padding": 0}}
              }
            },
            {
              "data": {"values": [{}]},
              "mark": {"type": "text", "text": "(b)", "fontSize": 18, "fontWeight": "bold", "align": "center", "baseline": "middle"},
              "encoding": {"x": {"datum": 14.5, "type": "quantitative"}, "y": {"datum": 42.36, "type": "quantitative"}}
            },
            {
              "data": {"values": [{}]},
              "mark": {"type": "text", "text": "Dephasing time τ", "fontSize": 18, "fontWeight": "bold", "angle": 270, "align": "right", "baseline": "alphabetic"},
              "encoding": {"x": {"datum": -33.5, "type": "quantitative"}, "y": {"datum": 31.1, "type": "quantitative"}}
            },
            {
              "data": {"values": [{}]},
              "mark": {"type": "text", "text": "o", "fontSize": 12, "fontWeight": "bold", "angle": 270, "align": "left", "baseline": "alphabetic", "dx": 1, "dy": 4},
              "encoding": {"x": {"datum": -33.5, "type": "quantitative"}, "y": {"datum": 31.1, "type": "quantitative"}}
            },
            {
              "data": {"values": [{}]},
              "mark": {"type": "text", "text": "(ps)", "fontSize": 18, "fontWeight": "bold", "angle": 270, "align": "left", "baseline": "alphabetic", "dx": 21},
              "encoding": {"x": {"datum": -33.5, "type": "quantitative"}, "y": {"datum": 31.1, "type": "quantitative"}}
            }
          ]
        },
        {
          "layer": [
            {
              "data": {"values": [{}]},
              "mark": {"type": "rect", "fill": "#ffffff", "stroke": "#000000", "strokeWidth": 1.5},
              "encoding": {
                "x": {"datum": 0, "type": "quantitative", "scale": {"domain": [0, 300], "range": [240, 394]},
                      "axis": {"orient": "bottom", "offset": -173, "values": [0, 50, 100, 150, 200, 250], "tickCount": 40, "labelOverlap": false, "tickSize": -3, "tickWidth": 1, "domainWidth": 1, "labelFontSize": 9, "labelPadding": 6, "title": "Temperature (K)", "titleFontSize": 9, "titlePadding": 4, "zindex": 1}},
                "x2": {"datum": 300},
                "y": {"datum": 0.5, "type": "quantitative", "scale": {"domain": [0.5, 5], "range": [120, 0]},
                      "axis": {"orient": "left", "offset": -240, "values": [1, 2, 3, 4], "tickCount": 40, "format": "d", "labelOverlap": false, "tickSize": 3, "tickWidth": 1, "domainWidth": 1, "labelFontSize": 9, "labelPadding": 1, "title": "Normalized Dephasing time", "titleFontSize": 8.5, "titlePadding": 4, "zindex": 1}},
                "y2": {"datum": 5}
              }
            },
            {
              "data": {"values": [{}]},
              "mark": {"type": "rule", "color": "#7fe07f", "strokeWidth": 1},
              "encoding": {"x": {"datum": 0, "type": "quantitative"}, "x2": {"datum": 300}, "y": {"datum": 1, "type": "quantitative"}}
            },
            {
              "data": {"values": [{}]},
              "mark": {"type": "rule", "color": "#aaaaaa", "strokeWidth": 1, "strokeDash": [3, 3]},
              "encoding": {"x": {"datum": 75, "type": "quantitative"}, "y": {"datum": 0.5, "type": "quantitative"}, "y2": {"datum": 5}}
            },
            {
              "data": {"name": "n"},
              "mark": {"type": "point", "filled": true, "opacity": 1, "size": 16},
              "encoding": {
                "x": {"field": "T", "type": "quantitative"},
                "y": {"field": "v", "type": "quantitative"},
                "color": {"field": "s", "type": "nominal", "legend": null, "scale": {"domain": ["800 nm", "785 nm", "770 nm", "755 nm", "740 nm"], "range": ["#3ee6f2", "#ee1b1b", "#23dd18", "#1a1ae0", "#000000"]}},
                "shape": {"field": "s", "type": "nominal", "legend": null, "scale": {"domain": ["800 nm", "785 nm", "770 nm", "755 nm", "740 nm"], "range": ["M0,-1L0.224,-0.309L0.951,-0.309L0.363,0.118L0.588,0.809L0,0.382L-0.588,0.809L-0.363,0.118L-0.951,-0.309L-0.224,-0.309Z", "circle", "triangle-up", "diamond", "square"]}}
              }
            },
            {
              "data": {"values": [{"y": 4.7}, {"y": 1.74}]},
              "mark": {"type": "rule", "color": "#000000", "strokeWidth": 1},
              "encoding": {"x": {"datum": 15, "type": "quantitative"}, "x2": {"datum": 47}, "y": {"field": "y", "type": "quantitative"}}
            },
            {
              "data": {"values": [{"y": 4.7, "y2": 3.3}, {"y": 2.7, "y2": 1.74}]},
              "mark": {"type": "rule", "color": "#000000", "strokeWidth": 1},
              "encoding": {"x": {"datum": 31, "type": "quantitative"}, "y": {"field": "y", "type": "quantitative"}, "y2": {"field": "y2"}}
            },
            {
              "data": {"values": [{}]},
              "mark": {"type": "point", "shape": "triangle-up", "size": 16, "filled": true, "color": "#000000", "opacity": 1},
              "encoding": {"x": {"datum": 31, "type": "quantitative"}, "y": {"datum": 4.58, "type": "quantitative"}}
            },
            {
              "data": {"values": [{}]},
              "mark": {"type": "point", "shape": "triangle-down", "size": 16, "filled": true, "color": "#000000", "opacity": 1},
              "encoding": {"x": {"datum": 31, "type": "quantitative"}, "y": {"datum": 1.86, "type": "quantitative"}}
            },
            {
              "data": {"values": [{}]},
              "mark": {"type": "text", "text": "Δτ", "font": "Liberation Serif", "fontSize": 11, "align": "left", "baseline": "middle"},
              "encoding": {"x": {"datum": 13, "type": "quantitative"}, "y": {"datum": 3.05, "type": "quantitative"}}
            },
            {
              "data": {"values": [{}]},
              "mark": {"type": "text", "text": "o,740", "font": "Liberation Serif", "fontSize": 7.5, "align": "left", "baseline": "middle"},
              "encoding": {"x": {"datum": 38, "type": "quantitative"}, "y": {"datum": 2.9, "type": "quantitative"}}
            },
            {
              "data": {"values": [{}]},
              "mark": {"type": "text", "text": "T", "fontSize": 11, "fontWeight": "bold", "fontStyle": "italic", "align": "left", "baseline": "alphabetic"},
              "encoding": {"x": {"datum": 78, "type": "quantitative"}, "y": {"datum": 1.2, "type": "quantitative"}}
            },
            {
              "data": {"values": [{}]},
              "mark": {"type": "text", "text": "N", "fontSize": 7, "fontWeight": "bold", "align": "left", "baseline": "alphabetic"},
              "encoding": {"x": {"datum": 91, "type": "quantitative"}, "y": {"datum": 1.1, "type": "quantitative"}}
            }
          ]
        }
      ]
    }
  ]
}
